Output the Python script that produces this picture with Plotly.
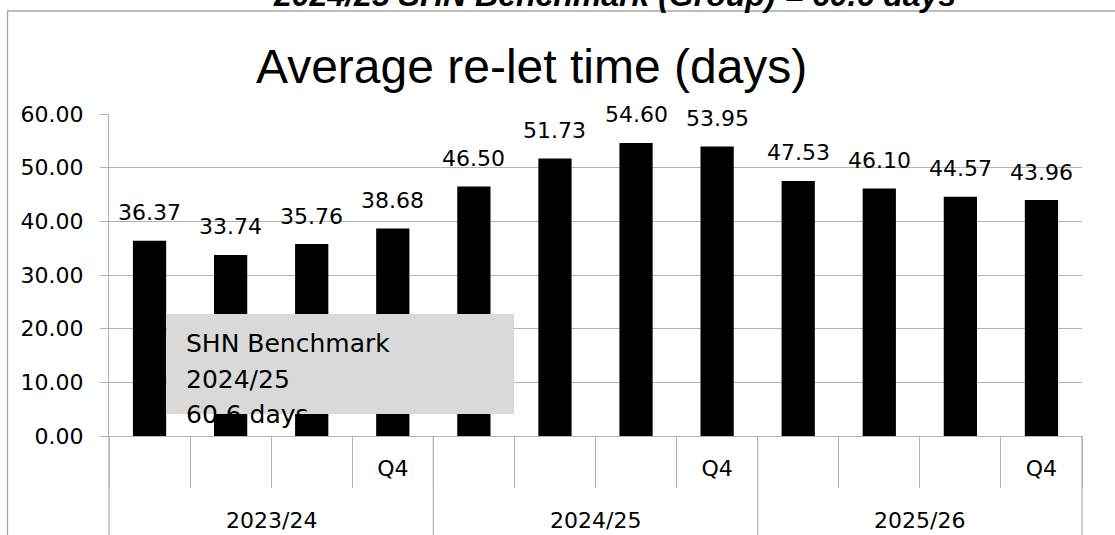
import plotly.graph_objects as go

years = ["2023/24", "2024/25", "2025/26"]
quarters = ["", "", "", "Q4"]
values = [36.37, 33.74, 35.76, 38.68, 46.50, 51.73, 54.60, 53.95, 47.53, 46.10, 44.57, 43.96]
y_ticks = [0, 10, 20, 30, 40, 50, 60]
box_lines = ["SHN Benchmark", "2024/25", "60.6 days"]
title_text = "Average re-let time (days)"
top_text = "2024/25 SHN Benchmark (Group) = 60.6 days"

W, H = 1115, 535
L, R, T, B = 109, 33, 114, 99
pw, ph = W - L - R, H - T - B

def px(x):
    return (x - L) / pw

def py(y):
    return (H - B - y) / ph

FONT = "DejaVu Sans"
GRID = "#b3b3b3"

n_q = len(quarters)
xs = list(range(len(values)))
tick_text = [quarters[i % n_q] for i in xs]
xr = [-0.5, len(values) - 0.5]

fig = go.Figure()
fig.add_trace(go.Bar(
    x=xs, y=values,
    marker=dict(color="black", line=dict(width=0)),
    hoverinfo="skip",
))

annotations = []
for i, v in zip(xs, values):
    annotations.append(dict(
        x=i, y=v, xref="x", yref="y", text=f"{v:.2f}", showarrow=False,
        yanchor="middle", yshift=28, font=dict(family=FONT, size=22, color="black"),
    ))

# year group labels and dividers
shapes = []
for g, yr in enumerate(years):
    center = g * n_q + (n_q - 1) / 2
    annotations.append(dict(
        x=center, y=py(520), xref="x", yref="paper", text=yr, showarrow=False,
        yanchor="middle", font=dict(family=FONT, size=22, color="black"),
    ))
bounds = [g * n_q - 0.5 for g in range(len(years) + 1)]
for b in bounds:
    xd = (b - xr[0]) / (xr[1] - xr[0])
    shapes.append(dict(type="line", xref="x domain", yref="paper", x0=xd, x1=xd, y0=0, y1=py(545),
                       line=dict(color=GRID, width=1.3)))

box_y = [343, 379, 414]
for line, yy in zip(box_lines, box_y):
    annotations.append(dict(
        x=px(184), y=py(yy), xref="paper", yref="paper", text=line, showarrow=False,
        xanchor="left", yanchor="middle", font=dict(family=FONT, size=25, color="black"),
    ))

annotations.append(dict(
    x=px(531), y=py(67), xref="paper", yref="paper", text=title_text, showarrow=False,
    xanchor="center", yanchor="middle",
    font=dict(family="Liberation Sans", size=48, color="black"),
))
annotations.append(dict(
    x=px(614), y=py(-5), xref="paper", yref="paper", text=f"<b><i>{top_text}</i></b>", showarrow=False,
    xanchor="center", yanchor="middle",
    font=dict(family="Liberation Sans", size=32, color="black"),
))

shapes += [
    dict(type="rect", xref="paper", yref="paper", x0=px(167), x1=px(514), y0=py(414), y1=py(314),
         fillcolor="#d9d9d9", line=dict(width=0), layer="above"),
    dict(type="rect", xref="paper", yref="paper", x0=px(7.5), x1=px(1125), y0=py(545), y1=py(11),
         fillcolor="rgba(0,0,0,0)", line=dict(color="#a6a6a6", width=1.3), layer="below"),
]

fig.update_layout(
    width=W, height=H,
    margin=dict(l=L, r=R, t=T, b=B, autoexpand=False),
    paper_bgcolor="white", plot_bgcolor="white",
    showlegend=False, bargap=0.59,
    annotations=annotations, shapes=shapes,
    font=dict(family=FONT, size=22, color="black"),
)
fig.update_yaxes(
    range=[0, 60], tickvals=y_ticks, tickformat=".2f",
    showgrid=True, gridcolor=GRID, gridwidth=1.3,
    showline=True, linecolor=GRID, linewidth=1.3,
    ticks="outside", ticklen=8, tickcolor=GRID, tickwidth=1.3,
    ticklabelstandoff=12,
    tickfont=dict(family=FONT, size=22, color="black"),
    zeroline=False, fixedrange=True,
)
fig.update_xaxes(
    type="linear", range=xr, tickvals=xs, ticktext=tick_text,
    showline=True, linecolor=GRID, linewidth=1.3,
    ticks="", ticklabelstandoff=12,
    minor=dict(ticks="outside", tick0=-0.5, dtick=1, ticklen=51, tickcolor=GRID, tickwidth=1.3, showgrid=False),
    tickfont=dict(family=FONT, size=22, color="black"),
    showgrid=False, zeroline=False, fixedrange=True,
)

fig.write_html("out.html", config={"displayModeBar": False},
               post_script="document.body.style.margin='0px';")
